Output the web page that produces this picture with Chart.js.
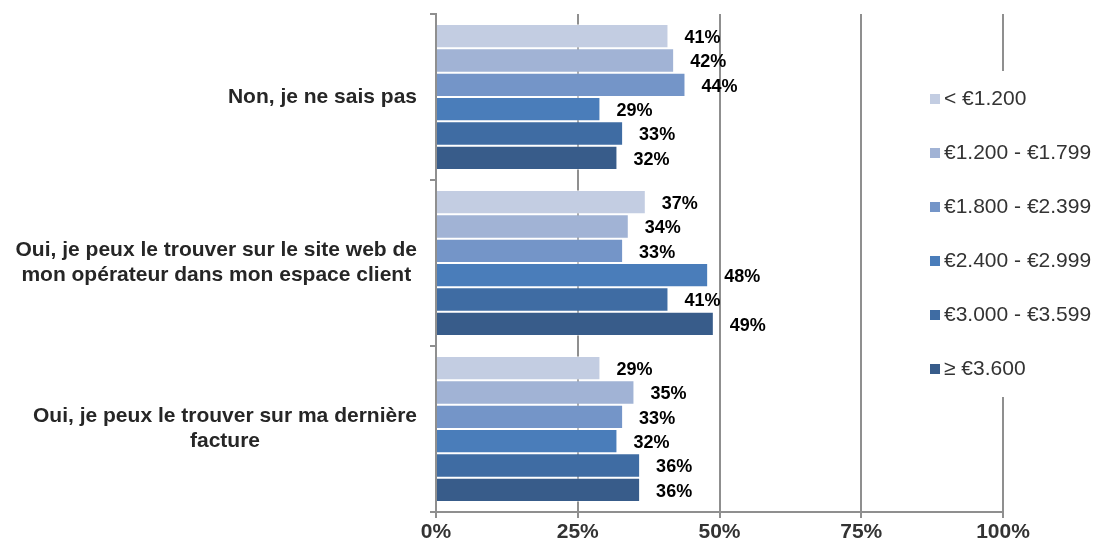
<!DOCTYPE html>
<html>
<head>
<meta charset="utf-8">
<script src="https://cdn.jsdelivr.net/npm/chart.js@4/dist/chart.umd.min.js"></script>
<style>
  html, body { margin: 0; padding: 0; background: #fff; }
  #wrap { width: 1097px; height: 545px; }
</style>
</head>
<body>
<div id="wrap"><canvas id="chart" width="1097" height="545"></canvas></div>
<script>
const categories = [
    ["Non, je ne sais pas"],
    ["Oui, je peux le trouver sur le site web de", "mon opérateur dans mon espace client"],
    ["Oui, je peux le trouver sur ma dernière", "facture"]
];
const seriesNames = ["< €1.200", "€1.200 - €1.799", "€1.800 - €2.399", "€2.400 - €2.999", "€3.000 - €3.599", "≥ €3.600"];
const seriesColors = ["#c3cde2", "#a1b3d5", "#7495c8", "#4a7dba", "#3f6ca3", "#385c8a"];
// one array per income band, in category order
const band1 = [41, 37, 29];
const band2 = [42, 34, 35];
const band3 = [44, 33, 33];
const band4 = [29, 48, 32];
const band5 = [33, 41, 36];
const band6 = [32, 49, 36];
const xTicks = [0, 25, 50, 75, 100];

const allBands = [band1, band2, band3, band4, band5, band6];
const gridGray = '#8f8f8f';

const datasets = allBands.map((vals, i) => ({
    label: seriesNames[i],
    data: vals,
    backgroundColor: seriesColors[i],
    borderColor: 'rgba(255,255,255,0.45)',
    borderWidth: 1,
    categoryPercentage: 0.88,
    barPercentage: 1.0
}));

// value labels to the right of each bar
const valueLabels = {
    id: 'valueLabels',
    afterDatasetsDraw(chart) {
        const ctx = chart.ctx;
        ctx.save();
        ctx.font = 'bold 18px "Liberation Sans", Arial, sans-serif';
        ctx.fillStyle = '#000';
        ctx.textAlign = 'left';
        ctx.textBaseline = 'middle';
        chart.data.datasets.forEach((ds, di) => {
            const meta = chart.getDatasetMeta(di);
            meta.data.forEach((bar, j) => {
                ctx.fillText(ds.data[j] + '%', bar.x + 16, bar.y + 2);
            });
        });
        ctx.restore();
    }
};

// category labels: block right aligned, lines centred inside the block
const categoryLabels = {
    id: 'categoryLabels',
    afterDraw(chart) {
        const ctx = chart.ctx;
        const yScale = chart.scales.y;
        const right = 417;
        const lineH = 25;
        ctx.save();
        ctx.font = 'bold 21px "Liberation Sans", Arial, sans-serif';
        ctx.fillStyle = '#262626';
        ctx.textAlign = 'center';
        ctx.textBaseline = 'middle';
        categories.forEach((lines, i) => {
            const w = Math.max(...lines.map(l => ctx.measureText(l).width));
            const cx = right - w / 2;
            const cy = yScale.getPixelForValue(i);
            const y0 = cy - (lines.length - 1) * lineH / 2;
            lines.forEach((l, k) => ctx.fillText(l, cx, y0 + k * lineH));
        });
        ctx.restore();
    }
};

// legend box on the right, painted over the last grid line
const sideLegend = {
    id: 'sideLegend',
    afterDraw(chart) {
        const ctx = chart.ctx;
        ctx.save();
        ctx.fillStyle = '#fff';
        ctx.fillRect(922, 71, 175, 326);
        ctx.font = '21px "Liberation Sans", Arial, sans-serif';
        ctx.textAlign = 'left';
        ctx.textBaseline = 'middle';
        chart.data.datasets.forEach((ds, i) => {
            const y = 99 + i * 54;
            ctx.fillStyle = ds.backgroundColor;
            ctx.fillRect(930, y - 5, 10, 10);
            ctx.fillStyle = '#333';
            ctx.fillText(ds.label, 944, y);
        });
        ctx.restore();
    }
};

const ctx = document.getElementById('chart').getContext('2d');
new Chart(ctx, {
    type: 'bar',
    data: {
        labels: categories,
        datasets: datasets
    },
    options: {
        indexAxis: 'y',
        responsive: false,
        animation: false,
        layout: { padding: { top: 14, right: 94, left: 0, bottom: 0 } },
        plugins: {
            legend: { display: false },
            tooltip: { enabled: false }
        },
        scales: {
            x: {
                min: 0,
                max: 100,
                afterBuildTicks(scale) {
                    scale.ticks = xTicks.map(v => ({ value: v }));
                },
                afterFit(scale) { scale.height = 33; },
                ticks: {
                    callback: v => v + '%',
                    color: '#333',
                    padding: 2,
                    maxRotation: 0,
                    font: { family: '"Liberation Sans", Arial, sans-serif', size: 21, weight: 'bold' }
                },
                grid: { color: gridGray, lineWidth: 2, tickLength: 6 },
                border: { color: gridGray, width: 2 }
            },
            y: {
                afterFit(scale) { scale.width = 436; },
                ticks: { display: false },
                grid: { drawOnChartArea: false, offset: true, tickLength: 6, color: gridGray, lineWidth: 2 },
                border: { color: gridGray, width: 2 }
            }
        }
    },
    plugins: [valueLabels, categoryLabels, sideLegend]
});
</script>
</body>
</html>
